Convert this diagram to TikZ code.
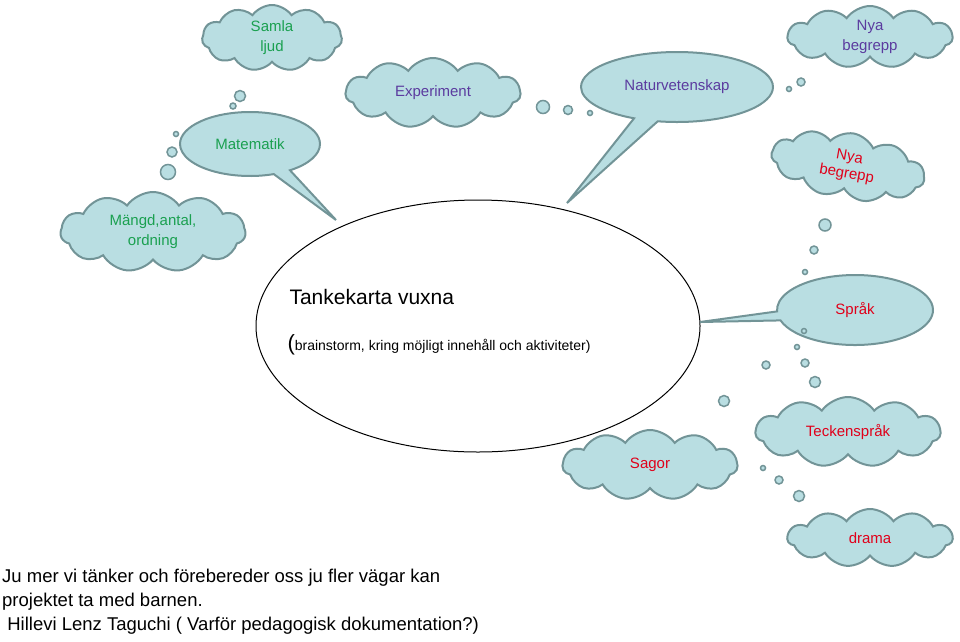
\documentclass[tikz,border=0pt]{standalone}
\usepackage{fontspec}
\setmainfont{Liberation Sans}
\usetikzlibrary{shapes.symbols,shapes.callouts,shapes.geometric}
\definecolor{cfill}{HTML}{B9DEE2}
\definecolor{cline}{HTML}{729497}
\definecolor{tgreen}{HTML}{1AA050}
\definecolor{tpurple}{HTML}{5B3B9F}
\definecolor{tred}{HTML}{E0001A}
\tikzset{
 cl/.style={cloud,cloud puffs=11,cloud puff arc=110,aspect=2.3,fill=cfill,draw=cline,line width=2pt,inner sep=0pt,align=center,font=\fontsize{15}{20}\selectfont},
 co/.style={ellipse callout,fill=cfill,draw=cline,line width=2pt,font=\fontsize{15}{18}\selectfont,inner sep=0pt},
 bub/.style={circle,fill=cfill,draw=cline,line width=1.5pt,inner sep=0pt},
}
\begin{document}
\begin{tikzpicture}[x=1pt,y=-1pt]
\useasboundingbox (0,0) rectangle (960,641);
% main ellipse
\node[ellipse,draw=black,line width=1pt,minimum width=444pt,minimum height=252pt,fill=white] (main) at (478,326) {};
\node[anchor=west,font=\fontsize{21}{24}\selectfont] (t1) at (286,297) {Tankekarta vuxna};
\node[anchor=west,font=\fontsize{14}{16}\selectfont] (t2) at (284,345) {{\fontsize{22}{22}\selectfont(}brainstorm, kring möjligt innehåll och aktiviteter)};
% callouts
\coordinate (pm) at (336,220);
\coordinate (pn) at (567,203);
\coordinate (ps) at (700,322);
\node[co,minimum width=140pt,minimum height=64pt,callout absolute pointer={(pm)},text=tgreen] (mat) at (250,144) {Matematik};
\node[co,minimum width=192pt,minimum height=70pt,callout absolute pointer={(pn)},text=tpurple] (nat) at (677,87) {Naturvetenskap};
\node[co,minimum width=156pt,minimum height=70pt,callout absolute pointer={(ps)},text=tred] (spr) at (855,310) {Språk};
% clouds
\node[cl,minimum width=140pt,minimum height=66pt,text=tgreen] (samla) at (272,38) {Samla\\ljud};
\node[cl,minimum width=165pt,minimum height=62pt,text=tpurple] (nya1) at (870,37) {Nya\\begrepp};
\node[cl,minimum width=175pt,minimum height=70pt,text=tpurple] (exp) at (433,93) {Experiment};
\node[cl,minimum width=155pt,minimum height=66pt,text=tred,rotate=-10,font=\fontsize{15}{17}\selectfont] (nya2) at (848,166) {Nya\\begrepp};
\node[cl,minimum width=185pt,minimum height=80pt,text=tgreen] (mangd) at (153,232) {Mängd,antal,\\ordning};
\node[cl,minimum width=175pt,minimum height=70pt,text=tred] (sagor) at (650,465) {Sagor};
\node[cl,minimum width=185pt,minimum height=70pt,text=tred] (teck) at (848,432) {Teckenspråk};
\node[cl,minimum width=165pt,minimum height=58pt,text=tred] (drama) at (870,538) {drama};
% bubbles
\foreach \n/\x/\y/\r in {b1/240/96/11,b2/233/106/6,b3/176/134/5,b4/172/152/10,b5/168/172/15,
 b6/543/107/13,b7/568/110/9,b8/590/113/5,b9/801/82/8,b10/789/89/5,
 b11/825/225/12,b12/814/250/8,b13/805/272/5,b14/804/331/5,b15/797/347/5,b16/805/363/8,b17/815/382/11,
 b18/766/365/8,b19/724/401/11,b20/763/468/5,b21/779/480/8,b22/799/496/11}
 \node[bub,minimum size=\r pt] (\n) at (\x,\y) {};
% bottom text
\node[anchor=north west,align=left,font=\fontsize{18.5}{24}\selectfont,inner sep=0pt] (txt) at (2,569)
 {Ju mer vi tänker och förebereder oss ju fler vägar kan\\projektet ta med barnen.\\\ Hillevi Lenz Taguchi ( Varför pedagogisk dokumentation?)};
\end{tikzpicture}
\end{document}
